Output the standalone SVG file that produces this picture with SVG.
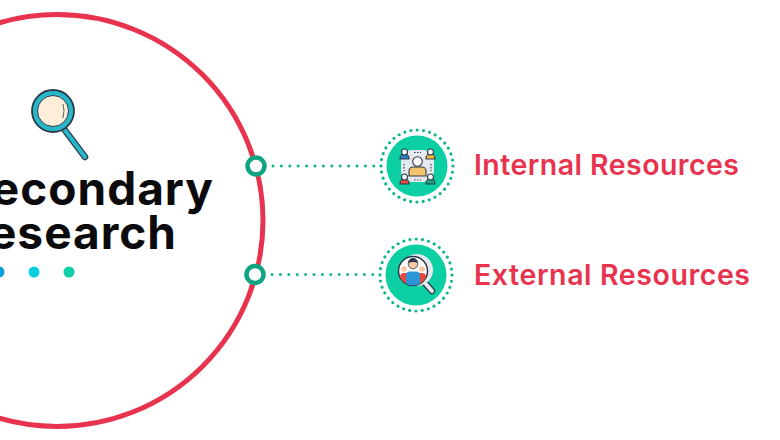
<svg xmlns="http://www.w3.org/2000/svg" width="780" height="440" viewBox="0 0 780 440">
<style>
.title{font-family:"Inter","Liberation Sans",sans-serif;font-weight:700;font-size:46px;letter-spacing:1px;fill:#0b0b0d}
.lab{font-family:"Inter","Liberation Sans",sans-serif;font-weight:600;font-size:28.500px;fill:#e8334f}
.dots{fill:none;stroke:#10b48c;stroke-width:3.200;stroke-linecap:round;stroke-dasharray:0 6.280}
.conn{fill:none;stroke:#10b48c;stroke-width:3;stroke-linecap:round;stroke-dasharray:0 8.400}
.port{fill:#fff;stroke:#0fa582;stroke-width:4.500}
.disc{fill:#0cd0a4}
.ol{stroke:#2d3a4b;stroke-width:1.100}
</style>
<rect width="780" height="440" fill="#fff"/>
<g id="main">
<circle cx="57" cy="220.500" r="206" fill="none" stroke="#e8334f" stroke-width="5"/>
<g id="magnifier">
<path d="M64 129 L85 157" stroke="#2d3a4b" stroke-width="6.500" stroke-linecap="round"/>
<path d="M64 129 L85 157" stroke="#26b8c8" stroke-width="4" stroke-linecap="round"/>
<circle cx="53" cy="111" r="21" fill="#26b8c8" stroke="#2d3a4b" stroke-width="1.800"/>
<circle cx="53" cy="111" r="15.500" fill="#fdeeda" stroke="#2d3a4b" stroke-width="1"/>
<path d="M63 104 Q65 110 63 118" fill="none" stroke="#2d3a4b" stroke-width="0.800"/>
</g>
<text class="title" x="214" y="205" text-anchor="end">Secondary</text>
<text class="title" x="177" y="248.500" text-anchor="end">Research</text>
<circle cx="-1" cy="272" r="5.500" fill="#0b9fe0"/>
<circle cx="34" cy="272" r="5.500" fill="#08cfe0"/>
<circle cx="69" cy="272" r="5.500" fill="#0cd0a4"/>
</g>
<g id="connectors">
<path class="conn" d="M273 166H375"/>
<path class="conn" d="M272 274.500H374"/>
</g>
<g id="port-1"><circle class="port" cx="256" cy="166" r="8.500"/></g>
<g id="port-2"><circle class="port" cx="255" cy="274.500" r="8.500"/></g>
<g id="internal">
<circle class="dots" cx="417" cy="166" r="36"/>
<circle class="disc" cx="417" cy="166" r="30.500"/>
<rect x="401" y="150" width="33" height="32" rx="11" fill="#e4e9ee"/>
<g class="ol">
<path d="M400 159v-1a4.500 4 0 0 1 9 0v1z" fill="#2b7fc4"/><circle cx="404.500" cy="152" r="3" fill="#fff"/>
<path d="M426 159v-1a4.500 4 0 0 1 9 0v1z" fill="#f3b63a"/><circle cx="430.500" cy="152" r="3" fill="#fff"/>
<path d="M400 184v-1a4.500 4 0 0 1 9 0v1z" fill="#e8483f"/><circle cx="404.500" cy="177" r="3" fill="#fff"/>
<path d="M426 184v-1a4.500 4 0 0 1 9 0v1z" fill="#22a583"/><circle cx="430.500" cy="177" r="3" fill="#fff"/>
<path d="M409 176v-5a4 4 0 0 1 4-4h9a4 4 0 0 1 4 4v5z" fill="#f6c46a"/><circle cx="417.500" cy="161.500" r="4.800" fill="#fff"/>
</g>
<path d="M414 152.500h7M414 180h7M404 164v7M431 164v7" stroke="#2d3a4b" stroke-width="1.100" stroke-dasharray="1.500 1.500"/>
</g>
<g id="external">
<circle class="dots" cx="416" cy="275" r="36"/>
<circle class="disc" cx="416" cy="275" r="30.500"/>
<path d="M424 282 L432 291" stroke="#2d3a4b" stroke-width="6.500" stroke-linecap="round"/>
<path d="M425 283 L432 291" stroke="#e4e9ee" stroke-width="4" stroke-linecap="round"/>
<circle cx="417" cy="270" r="16" fill="#e4e9ee"/>
<circle cx="413" cy="271" r="14.500" fill="#fff" stroke="#2d3a4b" stroke-width="1.500"/>
<path d="M400 277a4 4 0 0 1 4-4h3v11a14 14 0 0 1-7-7zM419 273h3a4 4 0 0 1 4 4a14 14 0 0 1-7 7z" fill="#e8483f"/>
<path d="M406 283.500v-8a4 4 0 0 1 4-4h6a4 4 0 0 1 4 4v8a14 14 0 0 1-14 0z" fill="#2b95d6"/>
<circle cx="413" cy="264" r="4.800" fill="#f6c9a0" stroke="#2d3a4b" stroke-width="0.800"/>
<path d="M408 263a5 5 0 0 1 10 0q-5-2-10 0z" fill="#2d3a4b"/>
<circle cx="404" cy="269" r="2.800" fill="#f6c9a0"/><circle cx="422" cy="269" r="2.800" fill="#f6c9a0"/>
</g>
<g id="label-1"><text class="lab" x="474" y="175" textLength="265" lengthAdjust="spacing">Internal Resources</text></g>
<g id="label-2"><text class="lab" x="474" y="285" textLength="276" lengthAdjust="spacing">External Resources</text></g>
</svg>
